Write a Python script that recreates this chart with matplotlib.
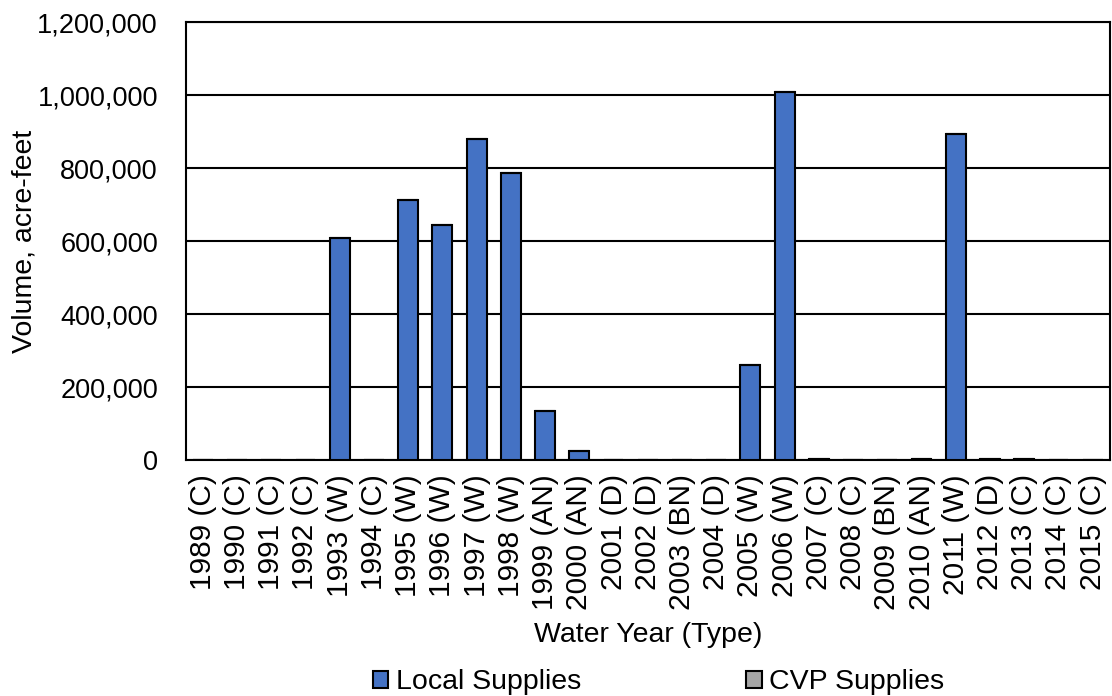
import matplotlib.pyplot as plt
from matplotlib.ticker import FuncFormatter
import numpy as np

plt.rcParams['font.family'] = ['Liberation Sans', 'DejaVu Sans']

years = ['1989 (C)', '1990 (C)', '1991 (C)', '1992 (C)', '1993 (W)', '1994 (C)',
         '1995 (W)', '1996 (W)', '1997 (W)', '1998 (W)', '1999 (AN)', '2000 (AN)',
         '2001 (D)', '2002 (D)', '2003 (BN)', '2004 (D)', '2005 (W)', '2006 (W)',
         '2007 (C)', '2008 (C)', '2009 (BN)', '2010 (AN)', '2011 (W)', '2012 (D)',
         '2013 (C)', '2014 (C)', '2015 (C)']
local_supplies = [0, 0, 0, 0, 608000, 0, 712000, 644000, 879000, 786000, 134000, 25000,
                  0, 0, 0, 0, 260000, 1008000, 3000, 0, 0, 3000, 893000, 3000,
                  3000, 0, 0]
cvp_supplies = [0] * len(years)

fig = plt.figure(figsize=(11.12, 6.96), dpi=100)
ax = fig.add_axes([0.167, 0.339, 0.831, 0.629])

x = np.arange(len(years))
ax.bar(x, local_supplies, width=0.58, color='#4472C4', edgecolor='black',
       linewidth=1.5, label='Local Supplies', zorder=3)
ax.bar(x, cvp_supplies, width=0.58, bottom=local_supplies, color='#A5A5A5',
       edgecolor='black', linewidth=1.5, label='CVP Supplies', zorder=3)

ax.set_xlim(-0.5, len(years) - 0.5)
ax.set_ylim(0, 1200000)
ax.set_yticks(np.arange(0, 1200001, 200000))
ax.yaxis.set_major_formatter(FuncFormatter(lambda v, p: f'{int(v):,}'))
ax.set_xticks(x)
ax.set_xticklabels(years, rotation=90)
ax.tick_params(axis='y', length=0, labelsize=19.5, pad=20)
ax.tick_params(axis='x', length=0, labelsize=21.5, pad=10)
ax.grid(axis='y', color='black', linewidth=1.5, zorder=0)
for s in ax.spines.values():
    s.set_color('black')
    s.set_linewidth(1.5)

ax.set_ylabel('Volume, acre-feet', fontsize=20.5)
ax.yaxis.set_label_coords(-0.16, 0.5)
ax.set_xlabel('Water Year (Type)', fontsize=20.5, labelpad=9)

fig.legend(loc='lower center', bbox_to_anchor=(0.592, -0.036), ncol=2, frameon=False,
           fontsize=20.5, handlelength=0.55, handleheight=0.55, handletextpad=0.25,
           columnspacing=5.8)

fig.savefig('out.png', dpi=100)
